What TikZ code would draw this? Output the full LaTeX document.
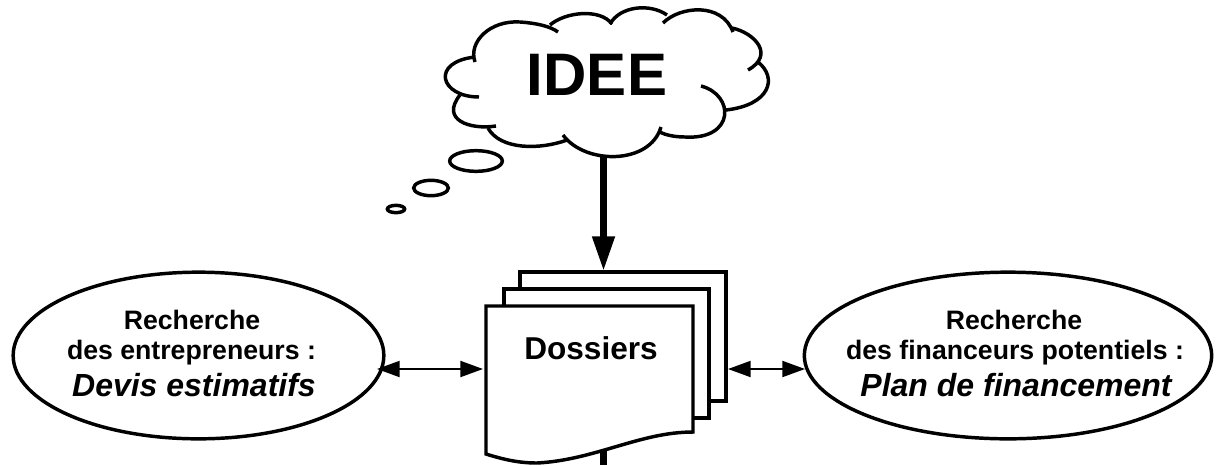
\documentclass[tikz,border=0pt]{standalone}
\usepackage{fontspec}
\setmainfont{Liberation Sans}
\usetikzlibrary{arrows.meta,shapes.geometric,positioning}
\tikzset{
  outline/.style={line width=2.6pt,black,line cap=butt,line join=miter},
  sheet/.style={draw,outline,fill=white,rectangle,inner sep=0pt},
  bubble/.style={draw,outline,ellipse,inner sep=0pt},
  search/.style={bubble,minimum width=278pt,minimum height=125pt},
  twoway/.style={line width=1.5pt,{Triangle[length=17pt,width=12pt]}-{Triangle[length=17pt,width=12pt]}},
  bigarrow/.style={line width=5pt,-{Triangle[length=26pt,width=16pt]}},
  plainline/.style={font=\fontsize{20pt}{23pt}\bfseries},
  slanted/.style={font=\fontsize{24pt}{28pt}\bfseries\itshape},
}
\begin{document}
\begin{tikzpicture}[x=0.75pt,y=-0.75pt]
  \useasboundingbox (0,0) rectangle (1224,465);

  % the thought
  \draw[outline] (475,62) .. controls (468,42) and (490,20) .. (520,22)
      .. controls (535,23) and (550,26) .. (558,32);
  \draw[outline] (550,25) .. controls (565,12) and (600,8) .. (612,24);
  \draw[outline] (610,24) .. controls (620,6) and (650,3) .. (667,15);
  \draw[outline] (663,23) .. controls (680,6) and (722,2) .. (733,32);
  \draw[outline] (732,28) .. controls (755,33) and (775,55) .. (748,70);
  \draw[outline] (758,62) .. controls (778,78) and (770,105) .. (726,110);
  \draw[outline] (701,86) .. controls (735,95) and (735,140) .. (685,137)
      .. controls (675,137) and (665,135) .. (660,132);
  \draw[outline] (661,127) .. controls (650,165) and (585,165) .. (563,135);
  \draw[outline] (567,140) .. controls (540,150) and (500,150) .. (488,128);
  \draw[outline] (496,126) .. controls (470,130) and (440,120) .. (460,95);
  \draw[outline] (479,97) .. controls (440,97) and (430,62) .. (475,57);
  \node[font=\fontsize{45pt}{50pt}\bfseries] (idee) at (597,75) {IDEE};

  \node[bubble,minimum width=39.5pt,minimum height=15.5pt] (puff1) at (476,161) {};
  \node[bubble,minimum width=26pt,minimum height=11.5pt] (puff2) at (431,188) {};
  \node[bubble,minimum width=13pt,minimum height=5.5pt] (puff3) at (396,209) {};

  \coordinate (cloudfoot) at (603.5,155);
  \coordinate (backtop) at (603.5,271);
  \coordinate (frontfoot) at (603.5,440);
  \coordinate (pagefoot) at (603.5,465);
  \draw[bigarrow] (cloudfoot) -- (backtop);
  \draw[line width=5pt] (frontfoot) -- (pagefoot);

  % the files
  \node[sheet,minimum width=154.5pt,minimum height=96.5pt] (back) at (623,336.5) {};
  \node[sheet,minimum width=154pt,minimum height=96.5pt] (middle) at (606.5,353.5) {};
  \draw[outline,fill=white] (486,306) -- (693,306) -- (693,432)
      .. controls (640,432) and (595,460) .. (537,463)
      .. controls (520,463) and (505,460) .. (486,454) -- cycle;
  \node[font=\fontsize{23.7pt}{26pt}\bfseries] (dossiers) at (591,348) {Dossiers};

  % left side
  \node[search] (entrepreneurs) at (198.5,355.5) {};
  \node[plainline,anchor=base] (ent1) at (192,329) {Recherche};
  \node[plainline,anchor=base] (ent2) at (191.5,359) {des entrepreneurs :};
  \node[slanted,anchor=base] (ent3) at (194,396) {Devis estimatifs};
  \coordinate (entside) at (377,369);
  \coordinate (frontside) at (483,369);
  \draw[twoway] (entside) -- (frontside);

  % right side
  \node[search,minimum width=305.5pt] (financeurs) at (1008,355.5) {};
  \node[plainline,anchor=base] (fin1) at (1014,329) {Recherche};
  \node[plainline,anchor=base] (fin2) at (1015,359) {des financeurs potentiels :};
  \node[slanted,anchor=base] (fin3) at (1016,396) {Plan de financement};
  \coordinate (backside) at (728,369);
  \coordinate (finside) at (805,369);
  \draw[twoway] (backside) -- (finside);
\end{tikzpicture}
\end{document}
